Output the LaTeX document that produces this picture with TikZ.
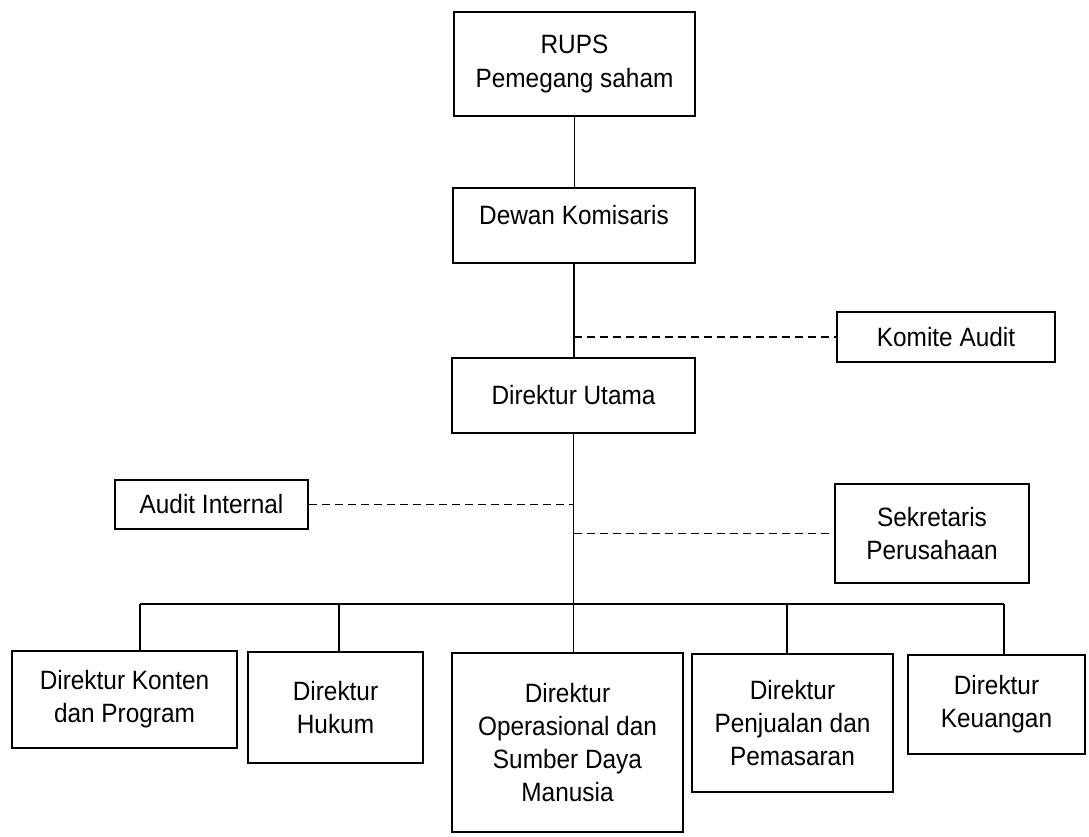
\documentclass[tikz,border=0pt]{standalone}
\usepackage{fontspec}
\setmainfont[FakeStretch=0.92]{Liberation Sans}
\usetikzlibrary{calc,positioning}

\begin{document}
\begin{tikzpicture}[x=1pt,y=-1pt,
  box/.style={draw,line width=2.2pt,align=center,inner sep=0pt,font=\fontsize{26.5}{33}\selectfont},
  link/.style={line width=1.4pt},
  dashlink/.style={line width=1.5pt,dash pattern=on 8pt off 5pt}]
  \useasboundingbox (0,0) rectangle (1089,837);
  % top of the chart
  \node[box,minimum width=241pt,minimum height=104pt] (rups) at (574.5,64) {RUPS\\Pemegang saham};
  \node[box,minimum width=242pt,text height=18pt,text depth=20pt,inner ysep=18.5pt] (dewan) at (574,225.5) {Dewan Komisaris};
  \node[box,minimum width=243pt,minimum height=75pt] (utama) at (573.5,395.5) {Direktur Utama};
  % staff units
  \node[box,minimum width=218pt,minimum height=50pt] (komite) at (946,337) {Komite Audit};
  \node[box,minimum width=193pt,minimum height=49pt] (audit) at (211.5,504.5) {Audit Internal};
  \node[box,minimum width=194pt,minimum height=99pt] (sekr) at (932,533.5) {Sekretaris\\Perusahaan};
  % directors
  \node[box,minimum width=225pt,minimum height=97pt] (konten) at (124.5,699.5) {Direktur Konten\\dan Program};
  \node[box,minimum width=175pt,minimum height=111pt] (hukum) at (335.5,707.5) {Direktur\\Hukum};
  \node[box,minimum width=231pt,minimum height=179pt] (ops) at (567.5,742.5) {Direktur\\Operasional dan\\Sumber Daya\\Manusia};
  \node[box,minimum width=201pt,minimum height=138pt] (jual) at (792.5,723) {Direktur\\Penjualan dan\\Pemasaran};
  \node[box,minimum width=177pt,minimum height=99pt] (uang) at (996.5,704.5) {Direktur\\Keuangan};
  % bus line
  \coordinate (b1) at (140,604);
  \coordinate (b2) at (339,604);
  \coordinate (b4) at (787,604);
  \coordinate (b5) at (1004,604);
  \draw[link] (rups.south) -- (rups.south |- dewan.north);
  \draw[link] (dewan.south) -- (dewan.south |- utama.north);
  \draw[link] (utama.south) -- (utama.south |- ops.north);
  \draw[link] (b1) -- (b5);
  \draw[link] (b1) -- (b1 |- konten.north);
  \draw[link] (b2) -- (b2 |- hukum.north);
  \draw[link] (b4) -- (b4 |- jual.north);
  \draw[link] (b5) -- (b5 |- uang.north);
  % dashed links
  \draw[dashlink] (utama.north |- komite.west) -- (komite.west);
  \draw[dashlink] (audit.east) -- (audit.east -| utama.south);
  \draw[dashlink] (sekr.west -| utama.south) -- (sekr.west);
\end{tikzpicture}
\end{document}
